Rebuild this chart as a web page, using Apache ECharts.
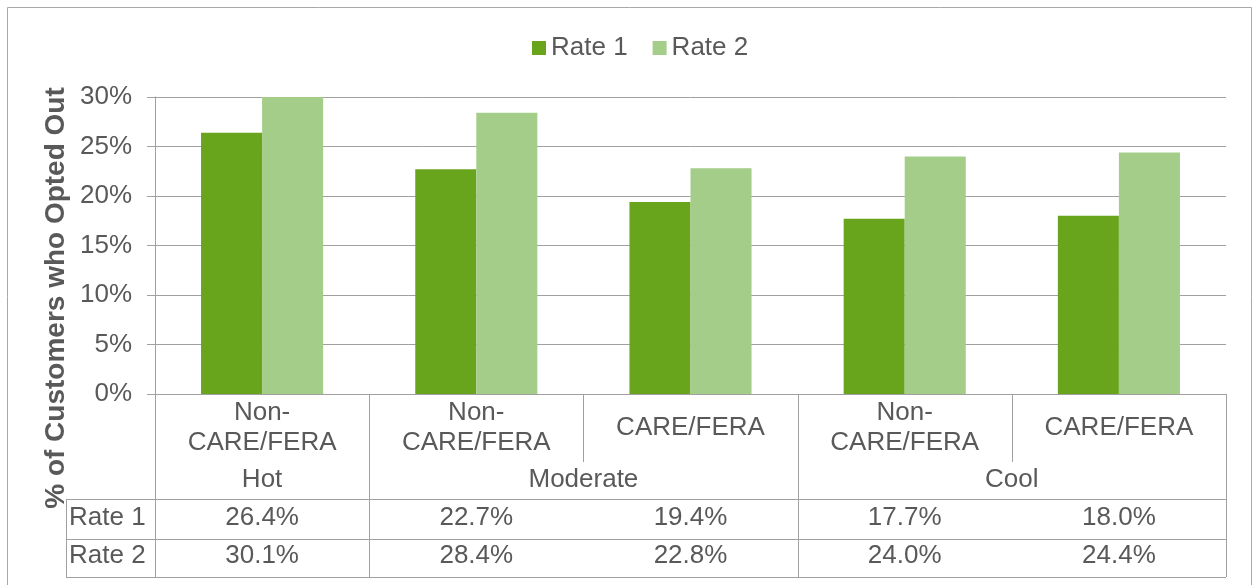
<!DOCTYPE html>
<html>
<head>
<meta charset="utf-8">
<script src="https://cdn.jsdelivr.net/npm/echarts@6/dist/echarts.min.js"></script>
<style>
html,body{margin:0;padding:0;background:#fff;}
#chart{width:1253px;height:585px;}
</style>
</head>
<body>
<div id="chart"></div>
<script>
// ---- data ----
const categories = ['Non-\nCARE/FERA', 'Non-\nCARE/FERA', 'CARE/FERA', 'Non-\nCARE/FERA', 'CARE/FERA'];
const groupNames = ['Hot', 'Moderate', 'Cool'];
const groupSizes = [1, 2, 2];
const seriesNames = ['Rate 1', 'Rate 2'];
const rate1 = [26.4, 22.7, 19.4, 17.7, 18.0];
const rate2 = [30.1, 28.4, 22.8, 24.0, 24.4];
const yTicks = { min: 0, max: 30, step: 5 };
const yTitle = '% of Customers who Opted Out';

// ---- style ----
const FONT = '"Liberation Sans", Arial, Helvetica, sans-serif';
const TEXT = '#595959';
const LINE = '#a0a0a0';
const C1 = '#68a41c';
const C2 = '#a3cd88';
const FS = 26;

// group start indices
const groupStart = [];
let acc = 0;
groupSizes.forEach((n, g) => { groupStart.push({ idx: acc, n: n, name: groupNames[g] }); acc += n; });

// table row offsets below the 0% axis (pixels)
const R = { catMid: 34, innerBottom: 68, groupMid: 86, r1Top: 105, r1Mid: 124, r2Top: 145, r2Mid: 162, bottom: 183, labelCol: 89 };

function px(v) { return Math.round(v) + 0.5; }

function hline(x0, x1, y) {
  return { type: 'line', shape: { x1: Math.round(x0), y1: px(y), x2: Math.round(x1), y2: px(y) }, style: { stroke: LINE, lineWidth: 1 } };
}
function vline(x, y0, y1) {
  return { type: 'line', shape: { x1: px(x), y1: Math.round(y0), x2: px(x), y2: Math.round(y1) }, style: { stroke: LINE, lineWidth: 1 } };
}
function txt(s, x, y, align) {
  return { type: 'text', style: { text: s, x: x, y: y, align: align || 'center', verticalAlign: 'middle', fontSize: FS, fontFamily: FONT, fill: TEXT, lineHeight: 30 } };
}

function renderTable(params, api) {
  const i = api.value(0);
  const c = api.coord([i, 0]);
  const bw = api.size([1, 0])[0];
  const x0 = c[0] - bw / 2, x1 = c[0] + bw / 2;
  const y0 = c[1];
  const ch = [];
  ch.push(txt(categories[i], c[0], y0 + R.catMid));
  const g = groupStart.find(gs => gs.idx === i);
  if (g) {
    ch.push(vline(x0, y0, y0 + R.bottom));
    ch.push(txt(g.name, x0 + g.n * bw / 2, y0 + R.groupMid));
  } else {
    ch.push(vline(x0, y0, y0 + R.innerBottom));
  }
  if (i === categories.length - 1) ch.push(vline(x1, y0, y0 + R.bottom));
  let lx0 = x0;
  if (i === 0) {
    lx0 = x0 - R.labelCol;
    ch.push(vline(lx0, y0 + R.r1Top, y0 + R.bottom));
    ch.push(txt(seriesNames[0], lx0 + 3, y0 + R.r1Mid, 'left'));
    ch.push(txt(seriesNames[1], lx0 + 3, y0 + R.r2Mid, 'left'));
  }
  ch.push(hline(lx0, x1, y0 + R.r1Top));
  ch.push(hline(lx0, x1, y0 + R.r2Top));
  ch.push(hline(lx0, x1, y0 + R.bottom));
  ch.push(txt(rate1[i].toFixed(1) + '%', c[0], y0 + R.r1Mid));
  ch.push(txt(rate2[i].toFixed(1) + '%', c[0], y0 + R.r2Mid));
  return { type: 'group', children: ch };
}

const chart = echarts.init(document.getElementById('chart'), null, { renderer: 'canvas' });
chart.setOption({
  animation: false,
  backgroundColor: '#fff',
  textStyle: { fontFamily: FONT },
  graphic: [
    { type: 'rect', shape: { x: 7.5, y: 7.5, width: 1244, height: 620 }, style: { fill: 'none', stroke: '#a8a8a8', lineWidth: 1 }, silent: true, z: -1 },
    { type: 'text', x: 56, y: 298, rotation: Math.PI / 2, style: { text: yTitle, align: 'center', verticalAlign: 'middle', fontSize: 28, fontWeight: 'bold', fontFamily: FONT, fill: TEXT } }
  ],
  legend: {
    data: seriesNames,
    top: 30,
    left: 527,
    itemWidth: 14,
    itemHeight: 14,
    itemGap: 25,
    icon: 'rect',
    textStyle: { fontSize: FS, color: TEXT, fontFamily: FONT }
  },
  grid: { left: 155, right: 27, top: 97, bottom: 191, containLabel: false },
  xAxis: {
    type: 'category',
    data: categories,
    axisLine: { show: true, onZero: false, lineStyle: { color: LINE } },
    axisTick: { show: false },
    axisLabel: { show: false },
    splitLine: { show: false }
  },
  yAxis: {
    type: 'value',
    min: yTicks.min,
    max: yTicks.max,
    interval: yTicks.step,
    axisLine: { show: true, lineStyle: { color: LINE } },
    axisTick: { show: true, length: 8, lineStyle: { color: LINE } },
    axisLabel: { formatter: '{value}%', fontSize: FS, color: TEXT, fontFamily: FONT, margin: 23 },
    splitLine: { show: true, lineStyle: { color: LINE } }
  },
  series: [
    { name: seriesNames[0], type: 'bar', data: rate1, itemStyle: { color: C1 }, barGap: '0%', barCategoryGap: '43%' },
    { name: seriesNames[1], type: 'bar', data: rate2, itemStyle: { color: C2 }, barGap: '0%', barCategoryGap: '43%' },
    { name: 'table', type: 'custom', renderItem: renderTable, data: categories.map((_, i) => [i, 0]), encode: { x: 0, y: 1 }, silent: true, clip: false, z: 5 }
  ]
});
</script>
</body>
</html>
